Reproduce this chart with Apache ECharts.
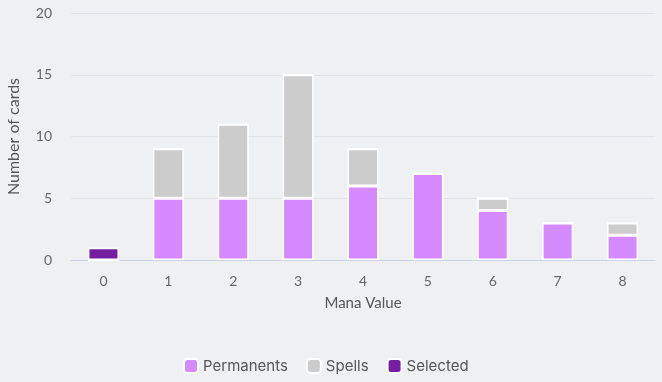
<!DOCTYPE html>
<html><head><meta charset="utf-8">
<script src="https://cdn.jsdelivr.net/npm/echarts@6/dist/echarts.min.js"></script>
<style>html,body{margin:0;padding:0;background:#eff0f2}#c{width:662px;height:382px}</style>
</head><body><div id="c"></div>
<script>
const categories = ['0','1','2','3','4','5','6','7','8'];
const permanents = [0,5,5,5,6,7,4,3,2];
const spells = [0,4,6,10,3,0,1,0,1];
const selected = [1,0,0,0,0,0,0,0,0];
const yTicks = {min:0,max:20,interval:5};

const chart = echarts.init(document.getElementById('c'));
const font = 'Inter, "Noto Sans", sans-serif';
const axisFont = 'Lato, "Open Sans", sans-serif';
const bar = (name, data, color) => ({
  name, type:'bar', stack:'a', data, barWidth:31,
  itemStyle:{color, borderColor:'#ffffff', borderWidth:1.5},
  emphasis:{disabled:true}
});
chart.setOption({
  backgroundColor:'#eff0f2',
  animation:false,
  textStyle:{fontFamily:font},
  grid:{left:71,right:7,top:13,bottom:122,containLabel:false,outerBoundsMode:'none'},
  legend:{bottom:3,left:178,itemWidth:14,itemHeight:14,itemGap:18,
    icon:'roundRect',
    textStyle:{fontSize:15,color:'#555',fontFamily:font},
    data:['Permanents','Spells','Selected']},
  xAxis:{type:'category',data:categories,
    name:'Mana Value',nameLocation:'middle',nameGap:36,
    nameTextStyle:{fontSize:15,color:'#555',fontFamily:axisFont},
    axisLine:{lineStyle:{color:'#c9d2e3'}},axisTick:{show:false},
    axisLabel:{color:'#666',fontSize:14,margin:14,fontFamily:axisFont}},
  yAxis:{type:'value',min:yTicks.min,max:yTicks.max,interval:yTicks.interval,
    name:'Number of cards',nameLocation:'middle',nameGap:49,
    nameTextStyle:{fontSize:16,color:'#555',fontFamily:axisFont},
    splitLine:{lineStyle:{color:'#e2e3e7'}},
    axisLabel:{color:'#666',fontSize:14,margin:19,fontFamily:axisFont}},
  series:[
    bar('Permanents',permanents,'#d68aff'),
    bar('Spells',spells,'#cccccc'),
    bar('Selected',selected,'#761ea2')
  ]
});
</script></body></html>
